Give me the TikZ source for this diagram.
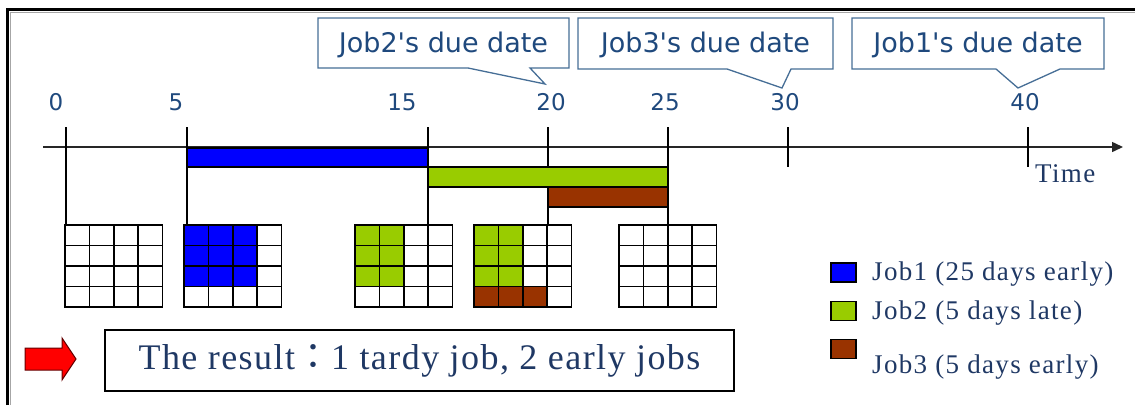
\documentclass[tikz,border=0pt]{standalone}
\usepackage{fontspec}
\setmainfont{Liberation Serif}
\newfontfamily\callfont{DejaVu Sans}
\newfontfamily\cjk{Noto Sans CJK TC}
\usetikzlibrary{arrows.meta}
\definecolor{jobone}{RGB}{0,0,255}
\definecolor{jobtwo}{RGB}{153,204,0}
\definecolor{jobthree}{RGB}{153,51,0}
\definecolor{navy}{RGB}{31,56,100}
\definecolor{callline}{RGB}{70,110,150}
\definecolor{calltext}{RGB}{31,73,125}
\begin{document}
\begin{tikzpicture}[x=1pt,y=-1pt,
		bar/.style={draw=black,line width=1.2pt},
		tickline/.style={line width=1.6pt},
		cell/.style={draw=black,line width=1.5pt},
		callout/.style={draw=callline,line width=1.3pt,fill=white,line join=miter},
		calltxt/.style={font=\callfont\fontsize{27}{30}\selectfont,text=calltext},
		ticklbl/.style={font=\callfont\fontsize{23}{26}\selectfont,text=calltext},
		legtxt/.style={anchor=west,inner sep=0pt,text=navy,font=\fontsize{27}{30}\selectfont\addfontfeature{LetterSpace=5}},
		legbox/.style={draw=black,line width=1.2pt,inner sep=0pt,minimum width=25,minimum height=19}]
	\useasboundingbox (0,0) rectangle (1135,405);
	\draw[line width=3pt] (7.5,405) -- (7.5,9.5) -- (1135,9.5);
	\draw[black!35,line width=1pt] (10,405) -- (10,12) -- (1135,12);
	% callouts
	\draw[callout] (318,18) -- (569,18) -- (569,68) -- (530,68) -- (545,84) -- (468,68) -- (318,68) -- cycle;
	\node[calltxt] (due2) at (443.5,45) {Job2's due date};
	\draw[callout] (578,18) -- (833,18) -- (833,69) -- (791,69) -- (782,88) -- (727,69) -- (578,69) -- cycle;
	\node[calltxt] (due3) at (705.5,45) {Job3's due date};
	\draw[callout] (852,18) -- (1104,18) -- (1104,69) -- (1060,69) -- (1018,88) -- (996,69) -- (852,69) -- cycle;
	\node[calltxt] (due1) at (978,45) {Job1's due date};
	% time axis
	\coordinate (ax0) at (43,147);
	\coordinate (ax1) at (1123,147);
	\draw[black!85,line width=1.5pt,-{Triangle[length=11pt,width=10pt]}] (ax0) -- (ax1);
	\node[legtxt] (time) at (1035,174) {Time};
	\foreach \v/\x in {0/56,5/176,15/402,20/551,25/665,30/785,40/1025}
		\node[ticklbl] (l\v) at (\x,102) {\v};
	\foreach \v/\x in {0/66,5/187,15/428,20/548,25/668,30/788,40/1028}
		\coordinate (t\v) at (\x,127);
	% grids
	\coordinate (g1) at (65,225);
	\coordinate (g2) at (184,225);
	\coordinate (g3) at (355,225);
	\coordinate (g4) at (474,225);
	\coordinate (g5) at (619,225);
	\draw[tickline] (t0) -- (t0 |- g1);
	\draw[tickline] (t5) -- (t5 |- g2);
	\draw[tickline] (t15) -- (t15 |- g3);
	\draw[tickline] (t20) -- (t20 |- g4);
	\draw[tickline] (t25) -- (t25 |- g5);
	\draw[tickline] (t30) -- ++(0,40);
	\draw[tickline] (t40) -- ++(0,40);
	\draw[bar,fill=jobone] (187,148) rectangle (428,167);
	\draw[bar,fill=jobtwo] (428,167) rectangle (668,187);
	\draw[bar,fill=jobthree] (548,187) rectangle (668,207);
	\fill[jobone] (g2) rectangle ++(73.2,61.5);
	\fill[jobtwo] (g3) rectangle ++(48.8,61.5);
	\fill[jobtwo] (g4) rectangle ++(48.8,61.5);
	\fill[jobthree] ([shift={(0,61.5)}]g4) rectangle ++(73.2,20.5);
	\foreach \g in {1,...,5}
		\foreach \c in {0,...,3}
			\foreach \r in {0,...,3}
				\draw[cell] ([shift={(24.4*\c,20.5*\r)}]g\g) rectangle ++(24.4,20.5);
	% legend
	\node[legbox,fill=jobone] (k1) at (843.5,272.5) {};
	\node[legtxt] (k1t) at (872,274) {Job1 (25 days early)};
	\node[legbox,fill=jobtwo] (k2) at (843.5,311) {};
	\node[legtxt] (k2t) at (872,313) {Job2 (5 days late)};
	\node[legbox,fill=jobthree] (k3) at (843.5,349) {};
	\node[legtxt] (k3t) at (872,367) {Job3 (5 days early)};
	% result
	\draw[fill=red,draw=black!60!red,line width=1pt] (25,348) -- (62,348) -- (62,338) -- (76,359) -- (62,380) -- (62,370) -- (25,370) -- cycle;
	\node[draw,line width=1.2pt,inner sep=0pt,minimum width=629,minimum height=61,text=navy,
		font=\fontsize{36}{40}\selectfont\addfontfeature{LetterSpace=4}] (res) at (419.5,360.5)
		{The result{\cjk ：}1 tardy job, 2 early jobs};
\end{tikzpicture}
\end{document}
